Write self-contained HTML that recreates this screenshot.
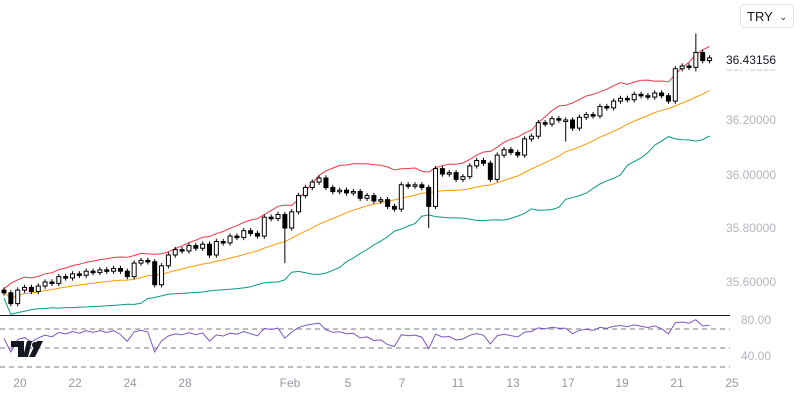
<!DOCTYPE html>
<html><head><meta charset="utf-8"><style>
body{margin:0;background:#fff;font-family:"Liberation Sans",sans-serif;}
#wrap{position:relative;width:800px;height:400px;overflow:hidden;}
.ax{position:absolute;font-size:12px;color:#b2b5be;right:24px;}
.tx{position:absolute;top:376px;font-size:12px;color:#9598a1;transform:translateX(-50%);}
</style></head><body>
<div id="wrap">
<svg id="svg" width="800" height="400" style="position:absolute;left:0;top:0"></svg>
<div style="position:absolute;left:740px;top:4px;width:54px;height:24px;border:1px solid #e0e3eb;border-radius:4px;font-size:13px;color:#131722;line-height:24px;padding-left:6px;box-sizing:border-box">TRY<span style="position:absolute;right:6px;font-size:9px">&#8964;</span></div>
<div class="ax" style="top:60px;color:#c8cad0">36.40000</div>
<div class="ax" style="top:53px;color:#131722;background:#fff;padding:0 0 2px">36.43156</div>
<div class="ax" style="top:113px">36.20000</div>
<div class="ax" style="top:168px">36.00000</div>
<div class="ax" style="top:221px">35.80000</div>
<div class="ax" style="top:275px">35.60000</div>
<div class="ax" style="top:313px;right:29px">80.00</div>
<div class="ax" style="top:349px;right:29px">40.00</div>
<div id="xl"></div>
<svg style="position:absolute;left:11px;top:341px" width="32" height="16"><path d="M0 0h13v16h-6V6H0z M16 0h5l-4 16h-5z" fill="#131722"/><circle cx="24" cy="4" r="3" fill="#131722"/><path d="M26 0h6l-8 16h-6z" fill="#131722"/></svg>
</div>
<script>
const closes=[35.56,35.52,35.57,35.58,35.565,35.585,35.6,35.595,35.62,35.615,35.63,35.625,35.64,35.635,35.645,35.64,35.65,35.64,35.62,35.67,35.68,35.675,35.59,35.66,35.7,35.72,35.715,35.735,35.725,35.74,35.70,35.75,35.745,35.77,35.765,35.79,35.78,35.77,35.84,35.835,35.85,35.8,35.86,35.92,35.95,35.97,35.985,35.95,35.935,35.94,35.93,35.935,35.91,35.92,35.9,35.905,35.88,35.87,35.96,35.955,35.96,35.95,35.88,36.02,36.0,36.005,35.98,35.99,36.03,36.05,36.04,35.98,36.07,36.09,36.08,36.07,36.13,36.14,36.19,36.185,36.205,36.2,36.2,36.17,36.21,36.22,36.215,36.25,36.245,36.27,36.28,36.275,36.295,36.29,36.285,36.3,36.29,36.27,36.39,36.4,36.395,36.45,36.42,36.43];
const longWickIdx=[41,62,82,101];
const longWickLow=[35.67,35.8,36.12,36.38];
const longWickHigh=[35.86,35.96,36.21,36.52];
const xLabels=["20","22","24","28","Feb","5","7","11","13","17","19","21","25"];
const xLabelPos=[20,75,130,185,290,348,402,458,513,568,622,677,732];
const rsiLevels=[70,50,30];

const svg=document.getElementById('svg');const NS='http://www.w3.org/2000/svg';
const X=i=>4+i*6.85, Y=p=>120-(p-36.2)*270, RY=r=>329-(r-70)*0.95;
function mk(t,a,name){const e=document.createElementNS(NS,t);for(const k in a)e.setAttribute(k,a[k]);


svg.appendChild(e);return e;}
const n=closes.length;
const up=[],mid=[],lo=[];
for(let i=0;i<n;i++){const s=closes.slice(Math.max(0,i-19),i+1);const m=s.reduce((a,b)=>a+b,0)/s.length;
const sd=Math.sqrt(s.reduce((a,b)=>a+(b-m)*(b-m),0)/s.length);mid.push(m);up.push(m+2*sd+0.015);lo.push(m-2*sd-0.02);}
const pl=a=>a.map((v,i)=>(i?'L':'M')+X(i).toFixed(1)+' '+Y(v).toFixed(1)).join(' ');
const cp=mk('clipPath',{id:'cp'},'price-clip');const r=document.createElementNS(NS,'rect');r.setAttribute('x',0);r.setAttribute('y',0);r.setAttribute('width',730);r.setAttribute('height',315);cp.appendChild(r);
mk('path',{d:pl(up),fill:'none',stroke:'#f23645',"stroke-width":1,'clip-path':'url(#cp)'},'bb-upper');
mk('path',{d:pl(mid),fill:'none',stroke:'#ff9800',"stroke-width":1,'clip-path':'url(#cp)'},'bb-basis');
mk('path',{d:pl(lo),fill:'none',stroke:'#089981',"stroke-width":1,'clip-path':'url(#cp)'},'bb-lower');
for(let i=0;i<n;i++){const o=i?closes[i-1]:closes[0]+0.01,c=closes[i];const x=X(i);
let h=Math.max(o,c)+0.01,l=Math.min(o,c)-0.01;const k=longWickIdx.indexOf(i);if(k>=0){h=longWickHigh[k];l=longWickLow[k];}
const g=mk('g',{'clip-path':'url(#cp)'},'candle');
const w=document.createElementNS(NS,'line');w.setAttribute('x1',x);w.setAttribute('x2',x);w.setAttribute('y1',Y(h));w.setAttribute('y2',Y(l));w.setAttribute('stroke','#000');

g.appendChild(w);
const b=document.createElementNS(NS,'rect');const bt=Y(Math.max(o,c)),bh=Math.max(1.5,Y(Math.min(o,c))-bt);
b.setAttribute('x',x-2);b.setAttribute('y',bt);b.setAttribute('width',4);b.setAttribute('height',bh);
b.setAttribute('fill',c>=o?'#fff':'#000');b.setAttribute('stroke','#000');b.setAttribute('stroke-width',1);

g.appendChild(b);}
mk('line',{x1:0,x2:730,y1:315.5,y2:315.5,stroke:'#131722',"stroke-width":1},'pane-separator');
rsiLevels.forEach(v=>mk('line',{x1:0,x2:730,y1:RY(v),y2:RY(v),stroke:'#787b86',"stroke-dasharray":'5 4',"stroke-width":1},'rsi-level-line'));
let ag=0.006,al=0.004;const rsi=[];
for(let i=0;i<n;i++){if(i>0){const d=closes[i]-closes[i-1];ag=(ag*13+Math.max(d,0))/14;al=(al*13+Math.max(-d,0))/14;}
rsi.push(100-100/(1+ag/al));}
mk('path',{d:rsi.map((v,i)=>(i?'L':'M')+X(i).toFixed(1)+' '+RY(v).toFixed(1)).join(' '),fill:'none',stroke:'#7e57c2',"stroke-width":1},'rsi-line');
const xl=document.getElementById('xl');
xLabels.forEach((t,i)=>{const d=document.createElement('div');d.className='tx';d.style.left=xLabelPos[i]+'px';d.textContent=t;

xl.appendChild(d);});
</script>
</body></html>
